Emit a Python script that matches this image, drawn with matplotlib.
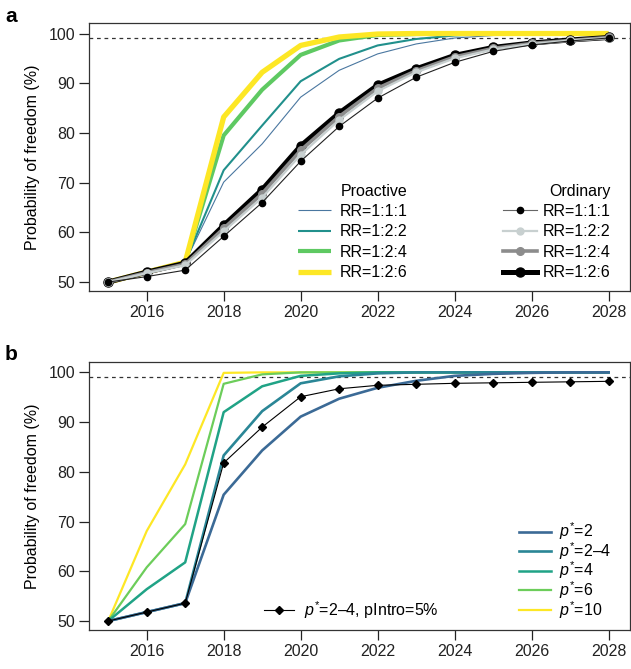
import matplotlib
matplotlib.use("Agg")
import matplotlib.pyplot as plt

plt.rcParams["font.family"] = ["Liberation Sans", "DejaVu Sans"]
plt.rcParams["mathtext.fontset"] = "custom"
plt.rcParams["mathtext.rm"] = "Liberation Sans"
plt.rcParams["mathtext.it"] = "Liberation Sans:italic"

years = list(range(2015, 2029))

# panel a - proactive
pro_111 = [50, 52.0, 54.0, 70.1, 77.8, 87.2, 92.6, 95.9, 97.9, 99.1, 99.6, 99.8, 99.9, 100.0]
pro_122 = [50, 52.0, 54.0, 72.5, 81.5, 90.4, 94.9, 97.6, 98.9, 99.6, 99.9, 100.0, 100.0, 100.0]
pro_124 = [50, 52.0, 54.0, 79.5, 88.7, 95.7, 98.6, 99.7, 99.9, 100.0, 100.0, 100.0, 100.0, 100.0]
pro_126 = [50, 52.0, 54.0, 83.2, 92.2, 97.6, 99.3, 99.9, 100.0, 100.0, 100.0, 100.0, 100.0, 100.0]

# panel a - ordinary
ord_111 = [50, 51.1, 52.4, 59.2, 66.0, 74.3, 81.3, 87.0, 91.2, 94.2, 96.4, 97.7, 98.5, 99.1]
ord_122 = [50, 51.8, 53.4, 60.2, 67.0, 75.6, 82.6, 88.4, 92.2, 95.0, 96.8, 97.9, 98.6, 99.1]
ord_124 = [50, 51.9, 53.6, 60.8, 67.8, 76.5, 83.3, 89.0, 92.5, 95.3, 97.0, 98.0, 98.6, 99.2]
ord_126 = [50, 52.0, 53.8, 61.4, 68.6, 77.4, 84.0, 89.6, 92.9, 95.6, 97.2, 98.1, 98.7, 99.2]

# panel b
p_2 = [50, 51.8, 53.6, 75.4, 84.3, 91.1, 94.7, 96.9, 98.3, 99.3, 99.7, 99.9, 100.0, 100.0]
p_2_4 = [50, 51.8, 53.6, 83.3, 92.2, 97.8, 99.2, 99.8, 100.0, 100.0, 100.0, 100.0, 100.0, 100.0]
p_4 = [50, 56.4, 61.8, 92.0, 97.2, 99.3, 99.8, 100.0, 100.0, 100.0, 100.0, 100.0, 100.0, 100.0]
p_6 = [50, 60.8, 69.5, 97.7, 99.6, 100.0, 100.0, 100.0, 100.0, 100.0, 100.0, 100.0, 100.0, 100.0]
p_10 = [50, 68.1, 81.5, 99.9, 100.0, 100.0, 100.0, 100.0, 100.0, 100.0, 100.0, 100.0, 100.0, 100.0]
p_2_4_intro = [50, 51.8, 53.6, 81.8, 89.0, 95.1, 96.7, 97.4, 97.6, 97.8, 97.9, 98.0, 98.1, 98.2]

FS = 11.5

fig = plt.figure(figsize=(6.31, 6.69), dpi=100)
ax1 = fig.add_axes([0.141, 0.565, 0.857, 0.4005])
ax2 = fig.add_axes([0.141, 0.0583, 0.857, 0.4007])


def style_axes(ax):
    ax.set_xlim(2014.5, 2028.55)
    ax.set_ylim(48.2, 102.1)
    ax.set_xticks(range(2016, 2029, 2))
    ax.set_yticks(range(50, 101, 10))
    ax.tick_params(labelsize=FS, length=7, width=0.9, direction="out", pad=3, colors="#222222")
    for s in ax.spines.values():
        s.set_linewidth(0.9)
        s.set_color("#333333")
    ax.axhline(99, color="#333333", lw=0.9, ls=(0, (3, 3)), zorder=0)
    ax.set_ylabel("Probability of freedom (%)", fontsize=FS, labelpad=6)


style_axes(ax1)
style_axes(ax2)

# panel a
pro_lines = []
for vals, col, lw, lab in [
    (pro_111, "#4a77a0", 0.8, "RR=1:1:1"),
    (pro_122, "#21908c", 1.5, "RR=1:2:2"),
    (pro_124, "#5ec962", 3.0, "RR=1:2:4"),
    (pro_126, "#fde725", 3.8, "RR=1:2:6"),
]:
    (ln,) = ax1.plot(years, vals, color=col, lw=lw, label=lab, solid_capstyle="butt")
    pro_lines.append(ln)

ord_handles = {}
for vals, col, lw, ms, lab in [
    (ord_126, "#000000", 3.6, 6.5, "RR=1:2:6"),
    (ord_124, "#8c8c8c", 2.6, 5.5, "RR=1:2:4"),
    (ord_122, "#c8d0d0", 1.6, 5.0, "RR=1:2:2"),
    (ord_111, "#222222", 0.8, 4.5, "RR=1:1:1"),
]:
    mcol = "#000000" if lab == "RR=1:1:1" else col
    (ln,) = ax1.plot(years, vals, color=col, lw=lw, marker="o", ms=ms,
                     mfc=mcol, mec=mcol, label=lab)
    ord_handles[lab] = ln

# borderpad gives the gap under the title; anchors are shifted to undo the outer pad
pad_x = 0.35 * FS * 100 / 72 / 541
pad_y = 0.35 * FS * 100 / 72 / 268
leg1 = ax1.legend(handles=pro_lines, loc="lower left", bbox_to_anchor=(0.386 - pad_x, 0.04 - pad_y),
                  frameon=False, fontsize=FS, title="Proactive", title_fontsize=FS,
                  handlelength=2.1, handletextpad=0.55, labelspacing=0.34,
                  borderpad=0.35, borderaxespad=0, alignment="right")
ax1.add_artist(leg1)
order = ["RR=1:1:1", "RR=1:2:2", "RR=1:2:4", "RR=1:2:6"]
leg2 = ax1.legend(handles=[ord_handles[k] for k in order], loc="lower right",
                  bbox_to_anchor=(0.965 + pad_x, 0.04 - pad_y),
                  frameon=False, fontsize=FS, title="Ordinary", title_fontsize=FS,
                  handlelength=2.1, handletextpad=0.4, labelspacing=0.34,
                  borderpad=0.35, borderaxespad=0, alignment="right", numpoints=1)
for lh, lab in zip(leg2.get_lines(), order):
    if lab == "RR=1:1:1":
        lh.set_color("#666666")

# panel b
p_lines = {}
for vals, col, lw, lab in [
    (p_10, "#fde725", 1.6, r"$p^{*}$=10"),
    (p_6, "#6ccd5a", 1.6, r"$p^{*}$=6"),
    (p_4, "#20a386", 1.8, r"$p^{*}$=4"),
    (p_2_4, "#2a8696", 1.9, r"$p^{*}$=2–4"),
    (p_2, "#3b6a96", 1.9, r"$p^{*}$=2"),
]:
    (ln,) = ax2.plot(years, vals, color=col, lw=lw, label=lab)
    p_lines[lab] = ln

(dia,) = ax2.plot(years, p_2_4_intro, color="#000000", lw=0.8, marker="D", ms=4.5,
                  label=r"$p^{*}$=2–4, pIntro=5%")

p_order = [r"$p^{*}$=2", r"$p^{*}$=2–4", r"$p^{*}$=4", r"$p^{*}$=6", r"$p^{*}$=10"]
leg3 = ax2.legend(handles=[p_lines[k] for k in p_order], loc="lower right",
                  bbox_to_anchor=(0.967, 0.035), frameon=False, fontsize=FS,
                  handlelength=2.0, handletextpad=0.5, labelspacing=-0.13,
                  borderpad=0, borderaxespad=0)
ax2.add_artist(leg3)
ax2.legend(handles=[dia], loc="lower left", bbox_to_anchor=(0.323, 0.035), frameon=False,
           fontsize=FS, handlelength=1.9, handletextpad=0.6, borderpad=0,
           borderaxespad=0, numpoints=1)

fig.text(0.008, 0.99, "a", fontsize=15, fontweight="bold", va="top")
fig.text(0.008, 0.485, "b", fontsize=15, fontweight="bold", va="top")

fig.savefig("out.png", dpi=100)
